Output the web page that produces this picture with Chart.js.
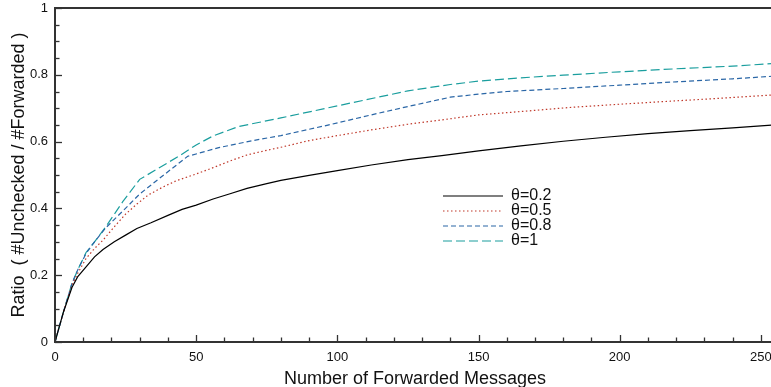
<!DOCTYPE html>
<html>
<head>
<meta charset="utf-8">
<script src="https://cdn.jsdelivr.net/npm/chart.js@4.4.1/dist/chart.umd.min.js"></script>
<style>
  html, body { margin: 0; padding: 0; background: #fff; overflow: hidden; }
  #wrap { width: 771px; height: 387px; overflow: hidden; position: relative; }
  canvas { display: block; }
</style>
</head>
<body>
<div id="wrap"><canvas id="c" width="776" height="387"></canvas></div>
<script>
// ---- data ----
const seriesLabels = ["θ=0.2", "θ=0.5", "θ=0.8", "θ=1"];

const x02 = [0,3,6,8,11,14,17,21,25,29,34,40,45,50,56,62,68,75,80,90,100,112,125,137,150,165,180,195,210,225,240,255];
const y02 = [0,0.09,0.163,0.195,0.225,0.255,0.277,0.3,0.32,0.34,0.357,0.379,0.397,0.41,0.428,0.444,0.46,0.474,0.484,0.499,0.513,0.53,0.546,0.558,0.572,0.587,0.601,0.613,0.624,0.633,0.641,0.65];

const x05 = [0,3,6,8,11,14,17,21,25,29,33,38,43,50,56,62,68,75,80,90,100,112,125,137,150,165,182,200,220,240,255];
const y05 = [0,0.09,0.17,0.205,0.25,0.28,0.305,0.345,0.383,0.413,0.44,0.463,0.483,0.503,0.522,0.542,0.56,0.574,0.583,0.603,0.618,0.635,0.652,0.665,0.68,0.69,0.702,0.712,0.722,0.732,0.74];

const x08 = [0,3,6,8,11,14,18,24,30,37,47,58,70,80,97,112,125,140,150,160,180,200,220,240,255];
const y08 = [0,0.09,0.175,0.215,0.265,0.3,0.342,0.392,0.443,0.49,0.556,0.582,0.603,0.618,0.65,0.68,0.705,0.733,0.742,0.75,0.759,0.769,0.779,0.788,0.796];

const x1 = [0,3,6,8,11,14,18,24,30,36,44,50,56,65,80,95,110,125,140,150,165,180,200,220,240,255];
const y1 = [0,0.09,0.175,0.215,0.268,0.3,0.345,0.42,0.487,0.517,0.557,0.59,0.617,0.645,0.671,0.698,0.725,0.752,0.771,0.781,0.791,0.799,0.809,0.818,0.826,0.834];

const xTickStep = 50;
const yTickStep = 0.2;
const xMax = 255;

// ---- build chart ----
const FONT = "'Liberation Sans', Arial, Helvetica, sans-serif";
function pts(xs, ys) { return xs.map((x, i) => ({ x: x, y: ys[i] })); }

const colors = ["#000000", "#c0392b", "#2a66a6", "#1a9e9e"];
const dashes = [[], [1.5, 2.5], [5, 3], [9, 4]];
const xsAll = [x02, x05, x08, x1];
const ysAll = [y02, y05, y08, y1];

const datasets = seriesLabels.map((lab, i) => ({
  label: lab,
  data: pts(xsAll[i], ysAll[i]),
  borderColor: colors[i],
  borderDash: dashes[i],
  borderWidth: 1.2,
  pointRadius: 0,
  tension: 0,
  fill: false
}));

const decor = {
  id: 'decor',
  afterDraw(chart) {
    const { ctx, chartArea: ca, scales: { x, y } } = chart;
    ctx.save();
    ctx.strokeStyle = '#333';
    // top frame line
    ctx.lineWidth = 2;
    ctx.beginPath(); ctx.moveTo(ca.left - 1, ca.top); ctx.lineTo(ca.right + 1, ca.top); ctx.stroke();
    // inward ticks
    ctx.lineWidth = 1.3;
    for (let k = 0; k <= 20; k++) {
      const v = k * 0.05;
      const py = Math.round(y.getPixelForValue(v)) + 0.5;
      const len = (k % 4 === 0) ? 7 : 4.5;
      ctx.beginPath(); ctx.moveTo(ca.left, py); ctx.lineTo(ca.left + len, py); ctx.stroke();
    }
    for (let v = 0; v <= xMax; v += 10) {
      const px = Math.round(x.getPixelForValue(v)) + 0.5;
      const len = (v % 50 === 0) ? 7 : 4.5;
      ctx.beginPath(); ctx.moveTo(px, ca.bottom); ctx.lineTo(px, ca.bottom - len); ctx.stroke();
    }
    // legend
    ctx.font = '16px ' + FONT;
    ctx.textBaseline = 'middle';
    ctx.textAlign = 'left';
    chart.data.datasets.forEach((ds, i) => {
      const ly = 196 + i * 15;
      ctx.strokeStyle = ds.borderColor;
      ctx.lineWidth = ds.borderWidth;
      ctx.setLineDash(ds.borderDash);
      ctx.beginPath(); ctx.moveTo(443, ly); ctx.lineTo(503, ly); ctx.stroke();
      ctx.setLineDash([]);
      ctx.fillStyle = '#111';
      ctx.fillText(ds.label, 511, ly);
    });
    ctx.restore();
  }
};

new Chart(document.getElementById('c'), {
  type: 'line',
  data: { datasets: datasets },
  options: {
    responsive: false,
    animation: false,
    devicePixelRatio: 1,
    layout: { padding: { top: 8, right: 1, left: 0, bottom: 0 } },
    plugins: { legend: { display: false }, tooltip: { enabled: false } },
    scales: {
      x: {
        type: 'linear',
        min: 0, max: xMax,
        grid: { display: false, drawTicks: false },
        border: { display: true, color: '#333', width: 2 },
        ticks: { stepSize: xTickStep, includeBounds: false, padding: 8, color: '#111', font: { family: FONT, size: 13 }, maxRotation: 0 },
        title: { display: true, text: 'Number of Forwarded Messages', color: '#111', font: { family: FONT, size: 18, lineHeight: 0.84 }, padding: { top: 0, bottom: 0 } },
        afterFit(s) { s.height = 45; s.paddingLeft = 0; s.paddingRight = 0; }
      },
      y: {
        type: 'linear',
        min: 0, max: 1,
        grid: { display: false, drawTicks: false },
        border: { display: true, color: '#333', width: 2 },
        ticks: { stepSize: yTickStep, padding: 7, color: '#111', font: { family: FONT, size: 13 },
                 callback: (v) => String(Math.round(v * 100) / 100) },
        title: { display: true, text: 'Ratio  ( #Unchecked / #Forwarded )', color: '#111', font: { family: FONT, size: 18, lineHeight: 1.2 }, padding: { top: 8, bottom: 0 } },
        afterFit(s) { s.width = 55; s.paddingTop = 0; s.paddingBottom = 0; }
      }
    }
  },
  plugins: [decor]
});
</script>
</body>
</html>
